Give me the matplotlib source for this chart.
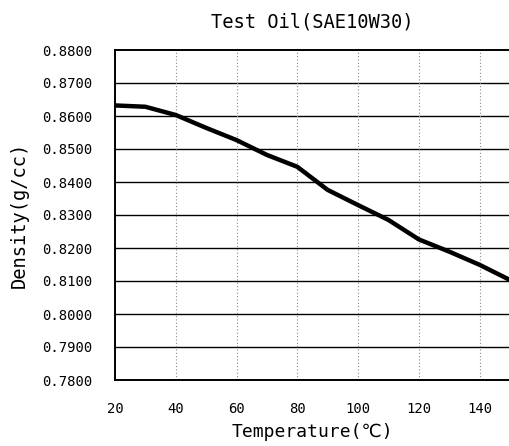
import matplotlib
matplotlib.use('Agg')
import matplotlib.pyplot as plt
import numpy as np

# values
temperature = [20, 30, 40, 50, 60, 70, 80, 90, 100, 110, 120, 130, 140, 150]
density = [0.8632, 0.8628, 0.8603, 0.8564, 0.8527, 0.8482, 0.8446, 0.8376,
           0.8330, 0.8285, 0.8226, 0.8189, 0.8149, 0.8103]
x_ticks = [20, 40, 60, 80, 100, 120, 140]
y_ticks = [0.78, 0.79, 0.80, 0.81, 0.82, 0.83, 0.84, 0.85, 0.86, 0.87, 0.88]

plt.rcParams['font.family'] = ['DejaVu Sans Mono', 'DejaVu Sans']

fig = plt.figure(figsize=(5.10, 4.46), dpi=100)
ax = fig.add_axes([115 / 510, 1 - 380 / 446, 395 / 510, 330 / 446])

ax.plot(temperature, density, color='black', linewidth=3.2, solid_joinstyle='round')

ax.set_xlim(20, 150)
ax.set_ylim(0.78, 0.88)
ax.set_xticks(x_ticks)
ax.set_yticks(y_ticks)
ax.set_yticklabels(['%.4f' % v for v in y_ticks])
ax.tick_params(length=0, labelsize=10, pad=16)

# horizontal solid grid, vertical dotted grid
for v in y_ticks[1:-1]:
    ax.axhline(v, color='black', linewidth=1.0, zorder=1)
for v in x_ticks[1:]:
    ax.axvline(v, color='#888888', linewidth=0.8, linestyle=(0, (1, 2)), zorder=1)

for s in ax.spines.values():
    s.set_linewidth(1.4)
    s.set_color('black')

ax.set_title('Test Oil(SAE10W30)', fontsize=13.5, pad=16)
ax.set_xlabel('Temperature(℃)', fontsize=13, labelpad=5)
ax.set_ylabel('Density(g/cc)', fontsize=13.5, labelpad=10)

fig.savefig('out.png', dpi=100)
